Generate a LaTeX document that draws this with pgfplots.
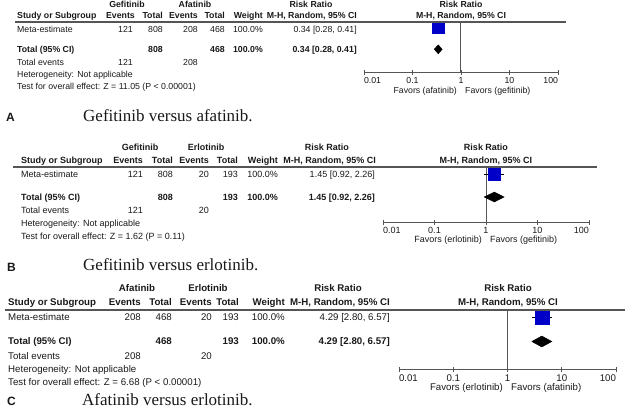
\documentclass[border=0pt]{standalone}
\usepackage{fontspec}
\setmainfont{Liberation Sans}
\newfontfamily\capfont{Liberation Serif}
\usepackage{pgfplots}
\pgfplotsset{compat=1.18}
\definecolor{txt}{RGB}{25,25,25}
\definecolor{linec}{RGB}{85,85,85}
\definecolor{sqblue}{RGB}{0,0,200}
\newcommand\fa{\fontsize{8.75}{10}\selectfont}
\newcommand\fb{\fontsize{9.0}{10}\selectfont}
\newcommand\fc{\fontsize{9.7}{11}\selectfont}
\newcommand\fcap{\fontsize{17}{19}\selectfont\capfont}
\newcommand\flab{\fontsize{12}{14}\selectfont\bfseries}

\begin{document}
\begin{tikzpicture}
\path[use as bounding box] (0,0) rectangle (625pt,-410pt);

% ---------- panel A
\begin{axis}[xmode=log, xmin=0.01, xmax=100, ymin=0, ymax=51,
  scale only axis, width=194pt, height=51pt, at={(364pt,-72pt)}, anchor=south west,
  axis x line*=bottom, axis y line=none, clip=false,
  axis line style={linec, line width=1pt, -},
  xtick={0.01,0.1,1,10,100}, xticklabels={\rlap{0.01},0.1,1,10,\llap{100}},
  xminorticks=false, tick align=center, major tick length=5pt,
  x tick style={linec, line width=0.8pt},
  xticklabel style={inner sep=1pt, yshift=-2pt, text=txt, font=\fa}]
\addplot[linec, line width=1pt] coordinates {(1,0) (1,51)};
\addplot[black, line width=0.6pt] coordinates {(0.28,45) (0.41,45)};
\addplot[only marks, mark=square*, mark size=6pt, mark options={fill=sqblue, draw=sqblue}] coordinates {(0.34,45)};
\addplot[fill=black, draw=black] coordinates {(0.28,22.7) (0.34,27.2) (0.41,22.7) (0.34,18.2) (0.28,22.7)};
\end{axis}

% ---------- panel B
\begin{axis}[xmode=log, xmin=0.01, xmax=100, ymin=0, ymax=55,
  scale only axis, width=206pt, height=55pt, at={(383pt,-222pt)}, anchor=south west,
  axis x line*=bottom, axis y line=none, clip=false,
  axis line style={linec, line width=1pt, -},
  xtick={0.01,0.1,1,10,100}, xticklabels={\rlap{0.01},0.1,1,10,\llap{100}},
  xminorticks=false, tick align=center, major tick length=5pt,
  x tick style={linec, line width=0.8pt},
  xticklabel style={inner sep=1pt, yshift=-2pt, text=txt, font=\fb}]
\addplot[linec, line width=1pt] coordinates {(1,0) (1,55)};
\addplot[black, line width=0.6pt] coordinates {(0.92,48) (2.26,48)};
\addplot[only marks, mark=square*, mark size=6.3pt, mark options={fill=sqblue, draw=sqblue}] coordinates {(1.45,48)};
\addplot[fill=black, draw=black] coordinates {(0.92,25) (1.45,30) (2.26,25) (1.45,20) (0.92,25)};
\end{axis}

% ---------- panel C
\begin{axis}[xmode=log, xmin=0.01, xmax=100, ymin=0, ymax=59,
  scale only axis, width=217pt, height=59pt, at={(399pt,-369pt)}, anchor=south west,
  axis x line*=bottom, axis y line=none, clip=false,
  axis line style={linec, line width=1pt, -},
  xtick={0.01,0.1,1,10,100}, xticklabels={\rlap{0.01},0.1,1,10,\llap{100}},
  xminorticks=false, tick align=center, major tick length=5pt,
  x tick style={linec, line width=0.8pt},
  xticklabel style={inner sep=1pt, yshift=-2pt, text=txt, font=\fc}]
\addplot[linec, line width=1pt] coordinates {(1,0) (1,59)};
\addplot[black, line width=0.6pt] coordinates {(2.80,52) (6.57,52)};
\addplot[only marks, mark=square*, mark size=7pt, mark options={fill=sqblue, draw=sqblue}] coordinates {(4.29,52)};
\addplot[fill=black, draw=black] coordinates {(2.80,27.5) (4.29,33) (6.57,27.5) (4.29,22) (2.80,27.5)};
\end{axis}

\begin{scope}[x=1pt, y=-1pt, every node/.style={inner sep=0pt, text=txt}]
% ---------- panel A table
\begin{scope}[font=\fa]
\node[anchor=mid, font=\fa\bfseries] at (127,5) {Gefitinib};
\node[anchor=mid, font=\fa\bfseries] at (195,5) {Afatinib};
\node[anchor=mid, font=\fa\bfseries] at (311,5) {Risk Ratio};
\node[anchor=mid, font=\fa\bfseries] at (461,5) {Risk Ratio};
\begin{scope}[font=\fa\bfseries]
\node[anchor=mid west] at (17,16) {Study or Subgroup};
\node[anchor=mid east] at (135,16) {Events};
\node[anchor=mid east] at (163,16) {Total};
\node[anchor=mid east] at (198,16) {Events};
\node[anchor=mid east] at (225,16) {Total};
\node[anchor=mid east] at (263,16) {Weight};
\node[anchor=mid east] at (357,16) {M-H, Random, 95\% CI};
\node[anchor=mid] at (461,16) {M-H, Random, 95\% CI};
\end{scope}
\draw[linec, line width=1.2pt] (15,22) -- (566,22);
\node[anchor=mid west] at (17,30) {Meta-estimate};
\node[anchor=mid east] at (133,30) {121};
\node[anchor=mid east] at (163,30) {808};
\node[anchor=mid east] at (198,30) {208};
\node[anchor=mid east] at (225,30) {468};
\node[anchor=mid east] at (263,30) {100.0\%};
\node[anchor=mid east] at (357,30) {0.34 [0.28, 0.41]};
\begin{scope}[font=\fa\bfseries]
\node[anchor=mid west] at (17,50) {Total (95\% CI)};
\node[anchor=mid east] at (163,50) {808};
\node[anchor=mid east] at (225,50) {468};
\node[anchor=mid east] at (263,50) {100.0\%};
\node[anchor=mid east] at (357,50) {0.34 [0.28, 0.41]};
\end{scope}
\node[anchor=mid west] at (17,63) {Total events};
\node[anchor=mid east] at (133,63) {121};
\node[anchor=mid east] at (198,63) {208};
\node[anchor=mid west] at (17,75) {Heterogeneity: Not applicable};
\node[anchor=mid west] at (17,87) {Test for overall effect: Z = 11.05 (P < 0.00001)};
\node[anchor=mid east] at (457,91) {Favors (afatinib)};
\node[anchor=mid west] at (465,91) {Favors (gefitinib)};
\end{scope}
\node[anchor=mid west, font=\flab] at (6,119) {A};
\node[anchor=mid west, font=\fcap] at (83,119) {Gefitinib versus afatinib.};

% ---------- panel B table
\begin{scope}[font=\fb]
\node[anchor=mid, font=\fb\bfseries] at (140,148) {Gefitinib};
\node[anchor=mid, font=\fb\bfseries] at (206,148) {Erlotinib};
\node[anchor=mid, font=\fb\bfseries] at (327,148) {Risk Ratio};
\node[anchor=mid, font=\fb\bfseries] at (486,148) {Risk Ratio};
\begin{scope}[font=\fb\bfseries]
\node[anchor=mid west] at (21,161) {Study or Subgroup};
\node[anchor=mid east] at (143,161) {Events};
\node[anchor=mid east] at (173,161) {Total};
\node[anchor=mid east] at (209,161) {Events};
\node[anchor=mid east] at (238,161) {Total};
\node[anchor=mid east] at (278,161) {Weight};
\node[anchor=mid east] at (376,161) {M-H, Random, 95\% CI};
\node[anchor=mid] at (486,161) {M-H, Random, 95\% CI};
\end{scope}
\draw[linec, line width=1.2pt] (13,167) -- (597,167);
\node[anchor=mid west] at (21,175) {Meta-estimate};
\node[anchor=mid east] at (143,175) {121};
\node[anchor=mid east] at (173,175) {808};
\node[anchor=mid east] at (209,175) {20};
\node[anchor=mid east] at (238,175) {193};
\node[anchor=mid east] at (278,175) {100.0\%};
\node[anchor=mid east] at (375,175) {1.45 [0.92, 2.26]};
\begin{scope}[font=\fb\bfseries]
\node[anchor=mid west] at (21,198) {Total (95\% CI)};
\node[anchor=mid east] at (173,198) {808};
\node[anchor=mid east] at (238,198) {193};
\node[anchor=mid east] at (278,198) {100.0\%};
\node[anchor=mid east] at (375,198) {1.45 [0.92, 2.26]};
\end{scope}
\node[anchor=mid west] at (21,211) {Total events};
\node[anchor=mid east] at (143,211) {121};
\node[anchor=mid east] at (209,211) {20};
\node[anchor=mid west] at (21,224) {Heterogeneity: Not applicable};
\node[anchor=mid west] at (21,237) {Test for overall effect: Z = 1.62 (P = 0.11)};
\node[anchor=mid east] at (482,240) {Favors (erlotinib)};
\node[anchor=mid west] at (490,240) {Favors (gefitinib)};
\end{scope}
\node[anchor=mid west, font=\flab] at (7,269) {B};
\node[anchor=mid west, font=\fcap] at (83,268) {Gefitinib versus erlotinib.};

% ---------- panel C table
\begin{scope}[font=\fc]
\node[anchor=mid, font=\fc\bfseries] at (137,289) {Afatinib};
\node[anchor=mid, font=\fc\bfseries] at (208,289) {Erlotinib};
\node[anchor=mid, font=\fc\bfseries] at (338,289) {Risk Ratio};
\node[anchor=mid, font=\fc\bfseries] at (508,289) {Risk Ratio};
\begin{scope}[font=\fc\bfseries]
\node[anchor=mid west] at (8,303) {Study or Subgroup};
\node[anchor=mid east] at (141,303) {Events};
\node[anchor=mid east] at (172,303) {Total};
\node[anchor=mid east] at (212,303) {Events};
\node[anchor=mid east] at (239,303) {Total};
\node[anchor=mid east] at (285,303) {Weight};
\node[anchor=mid east] at (390,303) {M-H, Random, 95\% CI};
\node[anchor=mid] at (508,303) {M-H, Random, 95\% CI};
\end{scope}
\draw[linec, line width=1.2pt] (5,310) -- (625,310);
\node[anchor=mid west] at (8,318) {Meta-estimate};
\node[anchor=mid east] at (141,318) {208};
\node[anchor=mid east] at (172,318) {468};
\node[anchor=mid east] at (212,318) {20};
\node[anchor=mid east] at (239,318) {193};
\node[anchor=mid east] at (285,318) {100.0\%};
\node[anchor=mid east] at (390,318) {4.29 [2.80, 6.57]};
\begin{scope}[font=\fc\bfseries]
\node[anchor=mid west] at (8,342) {Total (95\% CI)};
\node[anchor=mid east] at (172,342) {468};
\node[anchor=mid east] at (239,342) {193};
\node[anchor=mid east] at (285,342) {100.0\%};
\node[anchor=mid east] at (390,342) {4.29 [2.80, 6.57]};
\end{scope}
\node[anchor=mid west] at (8,357) {Total events};
\node[anchor=mid east] at (141,357) {208};
\node[anchor=mid east] at (212,357) {20};
\node[anchor=mid west] at (8,370) {Heterogeneity: Not applicable};
\node[anchor=mid west] at (8,383) {Test for overall effect: Z = 6.68 (P < 0.00001)};
\node[anchor=mid east] at (503,388) {Favors (erlotinib)};
\node[anchor=mid west] at (511,388) {Favors (afatinib)};
\end{scope}
\node[anchor=mid west, font=\flab] at (7,403) {C};
\node[anchor=mid west, font=\fcap] at (82,403) {Afatinib versus erlotinib.};
\end{scope}
\end{tikzpicture}
\end{document}
